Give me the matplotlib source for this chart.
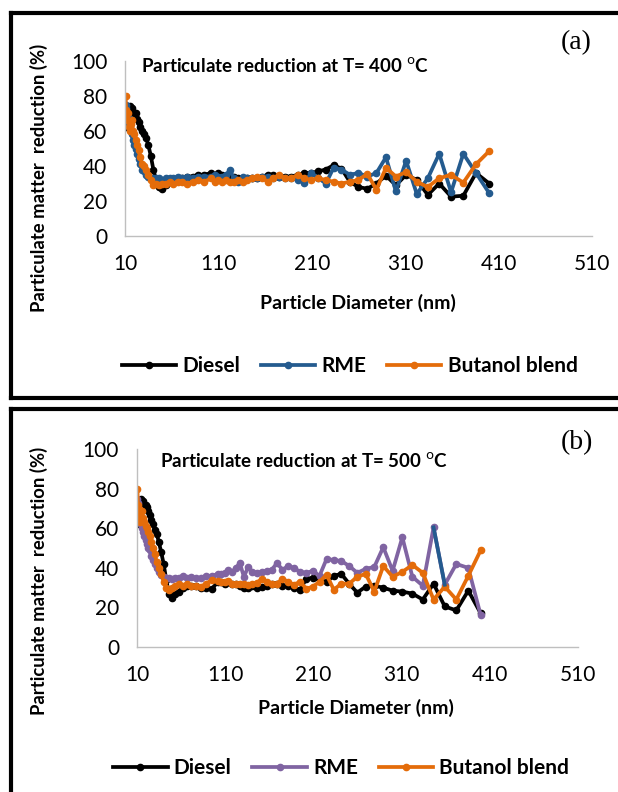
import matplotlib
matplotlib.use("Agg")
import matplotlib.pyplot as plt
from matplotlib.lines import Line2D

# particle diameters (nm), SMPS channels
diam = [10.2, 10.9, 11.8, 12.6, 13.6, 14.6, 15.7, 16.8, 18.1, 19.5, 20.9, 22.5, 24.1, 25.9,
        27.9, 30.0, 32.2, 34.6, 37.2, 40.0, 42.9, 46.1, 49.6, 53.3, 57.3, 61.5, 66.1, 71.0,
        76.4, 82.0, 88.2, 94.7, 101.8, 105.5, 109.4, 113.4, 117.6, 121.9, 126.3, 131.0, 135.8,
        140.7, 145.9, 151.2, 156.8, 162.5, 168.5, 174.7, 181.1, 187.7, 194.6, 201.7, 209.1,
        216.7, 224.7, 232.9, 241.4, 250.3, 259.5, 269.0, 278.8, 289.0, 299.6, 310.6, 322.0,
        333.8, 346.0, 358.7, 371.8, 385.4, 399.5]

# T = 400 C
diesel_400 = [62, 68, 72, 70, 73, 74, 72, 73, 71, 70, 70, 67, 65, 62, 60, 58, 56, 52, 46, 38,
              32, 28, 27, 29, 31, 32, 33, 33, 34, 34, 35, 35, 36, 35, 36, 35, 34, 34, 34, 33,
              33, 33, 33, 33, 34, 35, 35, 34, 34, 34, 35, 36, 36, 37, 38, 40.5, 38.5, 31, 28,
              27, 30, 34.5, 29, 35, 32, 23.5, 30, 22.5, 23, 36, 30]
rme_400 = [75, 73, 70, 68, 64, 62, 60, 58, 55, 52, 50, 47, 44, 41, 38, 37, 35, 34, 33, 33,
           33, 33, 32, 33, 33, 33, 34, 33, 34, 33, 34, 34, 34, 35, 34, 34, 35, 37.5, 33, 31,
           34, 33, 33, 33, 34, 34, 33, 34, 33, 33, 32, 30.5, 36, 33, 30, 39, 38, 35, 36,
           34, 36, 45, 25.5, 43, 24, 33, 47, 25, 47, 36, 24.5]
butanol_400 = [80, 72, 66, 70, 62, 60, 64, 66, 60, 58, 55, 52, 49, 45, 41, 40, 38, 35, 32, 29,
               30, 29, 30, 30, 31, 30, 31, 31, 30, 31, 32, 31, 33, 31, 32, 31, 32, 31, 31, 32,
               31, 32, 33, 34, 33, 31, 33, 35, 33, 33, 35, 33, 32, 33, 32, 31, 30, 31, 32,
               35.5, 26.5, 39, 34, 36.5, 31, 28, 33, 35, 30.5, 41, 48.5]

# T = 500 C
diesel_500 = [62, 66, 70, 72, 74, 75, 73, 74, 72, 72, 71, 69, 67, 64, 62, 59, 57, 53, 48, 42,
              34, 27, 25, 27, 28, 30, 31, 31, 31, 30, 30, 29.5, 33, 33, 32, 33, 32, 32, 31,
              30, 30, 31, 30, 30.5, 31, 32, 32, 31, 31, 30, 29, 34.5, 35, 34, 33, 36, 37, 32,
              27.5, 30.5, 31, 30, 28.5, 28, 27, 24, 32, 20.5, 18.5, 28.5, 17]
rme_500 = [75, 73, 70, 68, 65, 62, 60, 58, 56, 54, 52, 50, 49, 46, 44, 42, 40, 38, 36.5, 35.5,
           35, 35, 34.5, 35, 35, 36, 35, 35.5, 35, 35, 36, 36, 37, 37, 37.5, 39, 38, 40, 42.5,
           35.5, 40.5, 38, 37.5, 38, 38.5, 39, 42.5, 39, 41, 40, 38, 37.5, 38.5, 36, 44.5, 44,
           43.5, 41, 37.5, 39.5, 40.5, 50.5, 38.5, 55.5, 35.5, 31, 60.5, 31.5, 42, 40, 16]
butanol_500 = [80, 72, 68, 70, 63, 66, 69, 65, 63, 61, 60, 58, 56, 53, 50, 47, 43, 40, 37, 33,
               30, 29, 30, 31, 32, 31, 32, 31, 31, 30.5, 32, 34, 33.5, 33, 33, 33.5, 32, 32,
               32, 32, 31.5, 32, 32.5, 34.5, 33, 32, 32, 34.5, 33, 31.5, 33, 29.5, 30.5, 33,
               36.5, 29, 32, 32, 35.5, 37, 28, 41, 35.5, 38, 41.5, 37.5, 24, 30.5, 24, 36, 49]

xticks = [10, 110, 210, 310, 410, 510]
yticks = [0, 20, 40, 60, 80, 100]

sans = "Lato"
fig = plt.figure(figsize=(6.18, 7.92), dpi=100)


def panel(rect, series, title, title_xy):
    ax = fig.add_axes(rect)
    handles = []
    for y, col, name in series:
        h, = ax.plot(diam, y, color=col, lw=2.7, marker="o", ms=4.5, label=name)
        handles.append(h)
    ax.set_xlim(10, 510)
    ax.set_ylim(0, 100)
    ax.set_xticks(xticks)
    ax.set_yticks(yticks)
    ax.tick_params(length=0, labelsize=15, pad=13)
    for lab in ax.get_xticklabels() + ax.get_yticklabels():
        lab.set_fontfamily(sans)
    for s in ["top", "right"]:
        ax.spines[s].set_visible(False)
    for s in ["left", "bottom"]:
        ax.spines[s].set_color("#bfbfbf")
        ax.spines[s].set_linewidth(1)
    ax.text(title_xy[0], title_xy[1], title, transform=ax.transAxes, fontsize=13.5,
            fontweight="bold", family=sans, va="center", ha="left")
    return ax, handles


blue = "#245b8f"
orange = "#e46c0a"
purple = "#8064a2"

ax1, h1 = panel([0.2028, 0.702, 0.7558, 0.221],
                [(diesel_400, "black", "Diesel"), (rme_400, blue, "RME"),
                 (butanol_400, orange, "Butanol blend")],
                "Particulate reduction at T= 400 $^{\\mathrm{o}}$C", (0.034, 0.971))
ax2, h2 = panel([0.222, 0.1831, 0.7136, 0.2496],
                [(diesel_500, "black", "Diesel"), (rme_500, purple, "RME"),
                 (butanol_500, orange, "Butanol blend")],
                "Particulate reduction at T= 500 $^{\\mathrm{o}}$C", (0.052, 0.94))
# odd blue segment in the RME curve of panel (b)
ax2.plot(diam[66:68], rme_500[66:68], color=blue, lw=2.7, zorder=h2[1].get_zorder() + 0.1)

for ax, hs, lx, ly in [(ax1, h1, 0.566, 0.538), (ax2, h2, 0.552, 0.030)]:
    fig.legend(handles=hs, loc="center", bbox_to_anchor=(lx, ly), ncol=3, frameon=False,
               numpoints=1, handlelength=2.6, handletextpad=0.3, columnspacing=1.0,
               prop={"family": sans, "weight": "bold", "size": 15})

for y in (0.775, 0.266):
    fig.text(0.063, y, "Particulate matter  reduction (%)", rotation=90, ha="center",
             va="center", fontsize=13.3, fontweight="bold", family=sans)
fig.text(0.579, 0.617, "Particle Diameter (nm)", ha="center", va="center", fontsize=14,
         fontweight="bold", family=sans)
fig.text(0.576, 0.106, "Particle Diameter (nm)", ha="center", va="center", fontsize=14,
         fontweight="bold", family=sans)

fig.text(0.932, 0.946, "(a)", ha="center", va="center", fontsize=20, family="Liberation Serif")
fig.text(0.934, 0.441, "(b)", ha="center", va="center", fontsize=20, family="Liberation Serif")

# box frames around each panel (open on the right / bottom like the source)
lx0 = 10.5 / 618
frame = dict(color="black", lw=3, transform=fig.transFigure, clip_on=False,
             solid_capstyle="projecting")
fig.add_artist(Line2D([lx0, 1.05], [0.984, 0.984], **frame))
fig.add_artist(Line2D([lx0, lx0], [0.984, 0.498], **frame))
fig.add_artist(Line2D([lx0, 1.05], [0.498, 0.498], **frame))
fig.add_artist(Line2D([lx0, 1.05], [0.484, 0.484], **frame))
fig.add_artist(Line2D([lx0, lx0], [0.484, -0.05], **frame))

fig.savefig("out.png", dpi=100)
